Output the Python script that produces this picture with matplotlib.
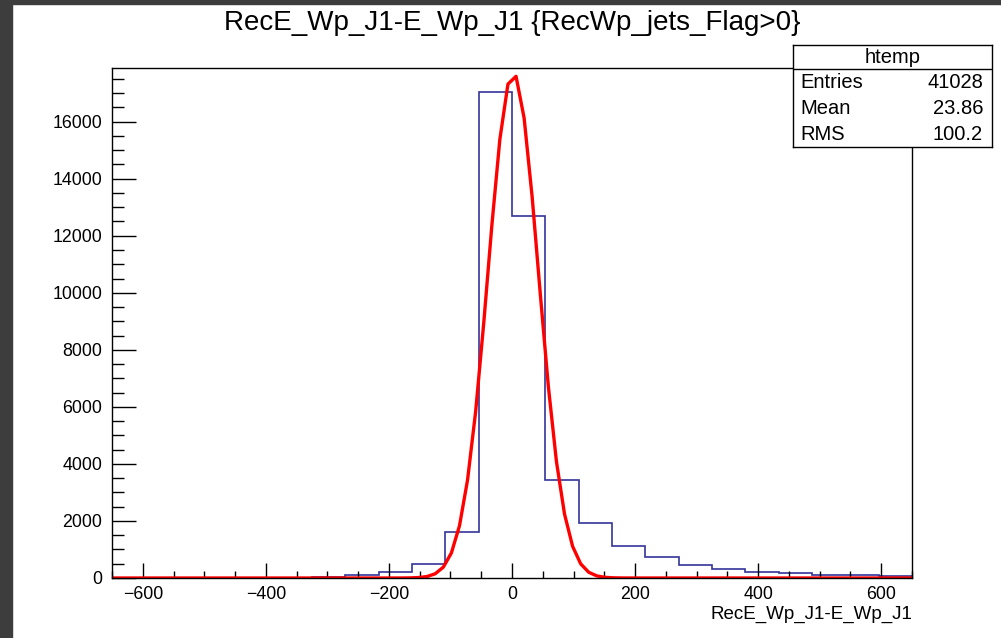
import numpy as np
import matplotlib
matplotlib.use('Agg')
import matplotlib.pyplot as plt
from matplotlib.ticker import MultipleLocator

plt.rcParams['font.family'] = ['Liberation Sans', 'DejaVu Sans']

# histogram data (24 bins from -650 to 650)
x_lo, x_hi, n_bins = -650, 650, 24
counts = [0, 0, 0, 0, 0, 5, 20, 90, 222, 480, 1614, 17030,
          12690, 3430, 1940, 1115, 750, 456, 305, 200, 165, 110, 100, 80]

# gaussian fit parameters (constant, mean, sigma)
fit_const, fit_mean, fit_sigma = 17700, 2.0, 41.0

title = 'RecE_Wp_J1-E_Wp_J1 {RecWp_jets_Flag>0}'
xlabel = 'RecE_Wp_J1-E_Wp_J1'
stats_name = 'htemp'
stats_rows = [('Entries', '41028'), ('Mean', '23.86'), ('RMS', '100.2')]

W, H = 1001, 638
fig = plt.figure(figsize=(W / 100, H / 100), dpi=100)
fig.patch.set_facecolor('white')

# dark screen border (top and left)
fig.patches.append(plt.Rectangle((0, 0), 12 / W, 1, transform=fig.transFigure,
                                 color='#3d3d3d', zorder=0))
fig.patches.append(plt.Rectangle((0, 1 - 4 / H), 1, 4 / H, transform=fig.transFigure,
                                 color='#3d3d3d', zorder=0))

ax = fig.add_axes([112 / W, 60 / H, 800 / W, 510 / H])

edges = np.linspace(x_lo, x_hi, n_bins + 1)
ax.stairs(counts, edges, color='#333399', lw=1.2)

xf = np.linspace(x_lo, x_hi, 100)
yf = fit_const * np.exp(-0.5 * ((xf - fit_mean) / fit_sigma) ** 2)
ax.plot(xf, yf, color='#ff0000', lw=2.4, solid_joinstyle='round')

ax.set_xlim(x_lo, x_hi)
ax.set_ylim(0, 1.05 * max(counts))

ax.xaxis.set_major_locator(MultipleLocator(200))
ax.xaxis.set_minor_locator(MultipleLocator(50))
ax.yaxis.set_major_locator(MultipleLocator(2000))
ax.yaxis.set_minor_locator(MultipleLocator(500))

ax.tick_params(axis='both', which='both', direction='in', width=1, colors='black',
               labelsize=12.8, top=False, right=False)
ax.tick_params(axis='x', which='major', length=10.8, pad=6)
ax.tick_params(axis='x', which='minor', length=5.4)
ax.tick_params(axis='y', which='major', length=17.3, pad=7)
ax.tick_params(axis='y', which='minor', length=8.6)
for s in ax.spines.values():
    s.set_linewidth(1.0)

ax.set_xlabel(xlabel, fontsize=13.5, loc='right', labelpad=2)
fig.text(512 / W, 1 - 23 / H, title, fontsize=20, ha='center', va='center')

# stats box
bx = fig.add_axes([793 / W, 1 - 147 / H, 199 / W, 102 / H])
bx.set_xlim(0, 1)
bx.set_ylim(0, 1)
bx.set_xticks([])
bx.set_yticks([])
bx.set_facecolor('white')
for s in bx.spines.values():
    s.set_linewidth(1.0)
hdr = 1 - 24 / 102
bx.axhline(hdr, color='black', lw=1.0)
bx.text(0.5, (1 + hdr) / 2, stats_name, fontsize=14.5, ha='center', va='center')
row_h = hdr / 3
for i, (k, v) in enumerate(stats_rows):
    yy = hdr - (i + 0.5) * row_h
    bx.text(0.035, yy, k, fontsize=14.5, ha='left', va='center')
    bx.text(0.955, yy, v, fontsize=14.5, ha='right', va='center')

fig.savefig('out.png', dpi=100)
